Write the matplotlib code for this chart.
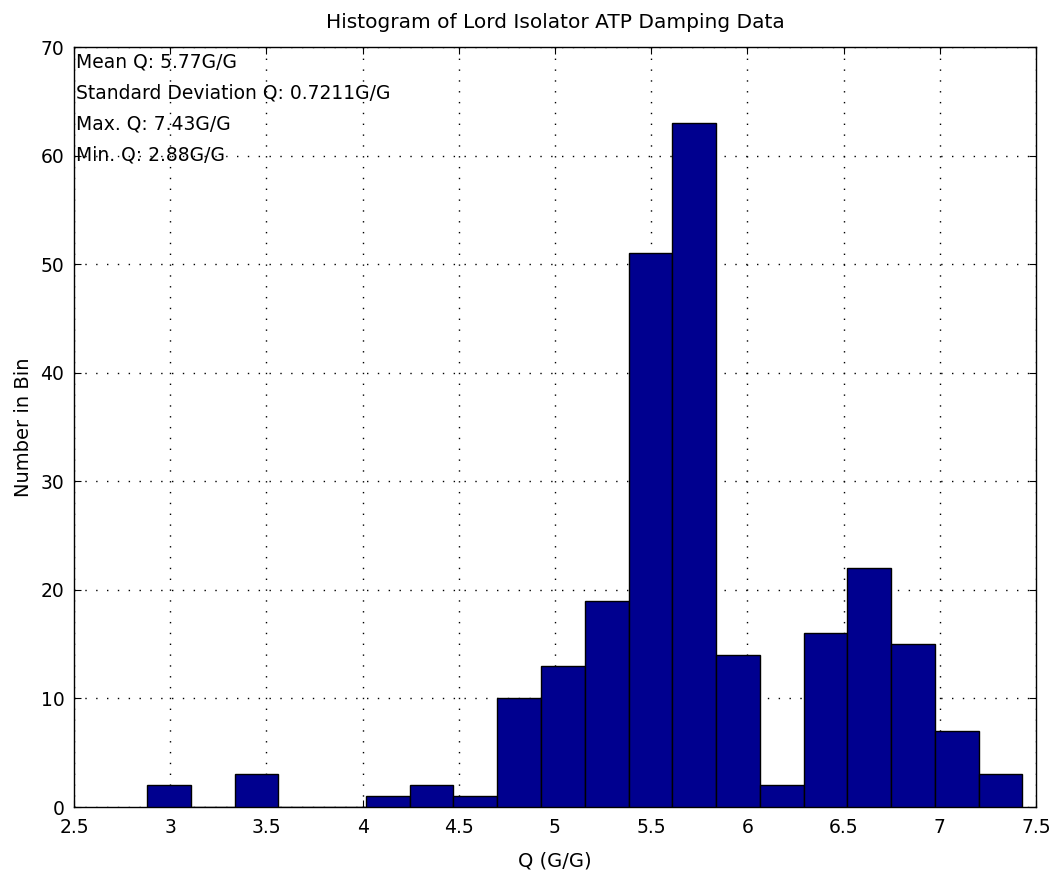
import matplotlib.pyplot as plt
import numpy as np

# Q statistics and binned counts (20 equal bins between min and max)
q_min = 2.88
q_max = 7.43
q_mean = 5.77
q_std = 0.7211
counts = [2, 0, 3, 0, 0, 1, 2, 1, 10, 13, 19, 51, 63, 14, 2, 16, 22, 15, 7, 3]

plt.rcParams['font.family'] = ['DejaVu Sans']

edges = np.linspace(q_min, q_max, len(counts) + 1)
widths = np.diff(edges)

fig = plt.figure(figsize=(10.59, 8.77), dpi=100)
ax = fig.add_axes([0.0699, 0.0798, 0.9083, 0.8666])

ax.bar(edges[:-1], counts, width=widths, align='edge',
       color=(0, 0, 0.5625), edgecolor='black', linewidth=1.0, zorder=3)

ax.set_xlim(2.5, 7.5)
ax.set_ylim(0, 70)
ax.set_xticks(np.arange(2.5, 7.51, 0.5))
ax.set_xticklabels(['2.5', '3', '3.5', '4', '4.5', '5', '5.5', '6', '6.5', '7', '7.5'])
ax.set_yticks(np.arange(0, 71, 10))
ax.tick_params(direction='in', length=5, top=True, right=True, labelsize=13.5)
ax.tick_params(axis='x', pad=8)
ax.tick_params(axis='y', pad=7)
ax.grid(True, color='black', linestyle=(0, (1, 6.8)), linewidth=1.0, zorder=1)
ax.set_axisbelow(True)
for sp in ax.spines.values():
    sp.set_linewidth(1.0)

ax.set_title('Histogram of Lord Isolator ATP Damping Data', fontsize=14.5, pad=14)
ax.set_xlabel('Q (G/G)', fontsize=14, labelpad=10)
ax.set_ylabel('Number in Bin', fontsize=14, labelpad=5)

stats = [f'Mean Q: {q_mean:.2f}G/G',
         f'Standard Deviation Q: {q_std:.4f}G/G',
         f'Max. Q: {q_max:.2f}G/G',
         f'Min. Q: {q_min:.2f}G/G']
for i, s in enumerate(stats):
    ax.text(2.51, 68.6 - 2.85 * i, s, fontsize=13.5, va='center', ha='left', zorder=4)

fig.savefig('out.png', dpi=100)
